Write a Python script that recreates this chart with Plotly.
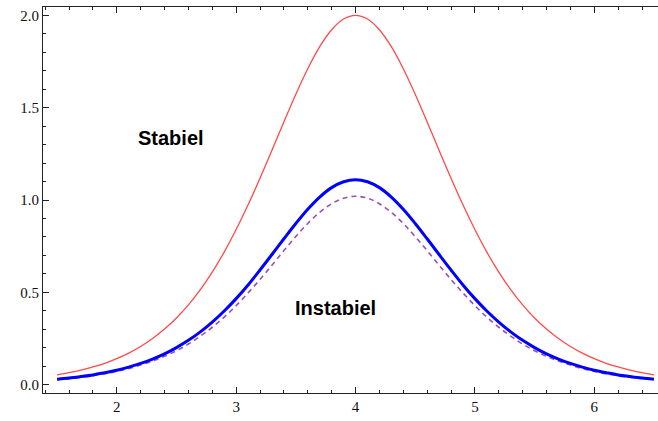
import plotly.graph_objects as go

x_vals = [round(1.5 + 0.1 * i, 1) for i in range(51)]
# values, from the left edge (x=1.5) up to the peak (x=4.0)
half_red = [0.053, 0.065, 0.079, 0.096, 0.116, 0.141, 0.171, 0.207, 0.250, 0.301, 0.361,
            0.432, 0.515, 0.610, 0.718, 0.840, 0.974, 1.118, 1.269, 1.423, 1.573,
            1.711, 1.830, 1.922, 1.980, 2.000]
half_blue = [0.030, 0.036, 0.044, 0.053, 0.065, 0.078, 0.095, 0.115, 0.139, 0.167, 0.201,
             0.240, 0.286, 0.339, 0.399, 0.466, 0.540, 0.621, 0.705, 0.790, 0.873,
             0.950, 1.016, 1.067, 1.099, 1.110]
half_dash = [0.027, 0.033, 0.040, 0.049, 0.059, 0.072, 0.087, 0.106, 0.128, 0.154, 0.184,
             0.220, 0.263, 0.311, 0.366, 0.428, 0.497, 0.570, 0.647, 0.726, 0.802,
             0.873, 0.933, 0.980, 1.010, 1.020]
stabiel_y = half_red + half_red[-2::-1]
instabiel_y = half_blue + half_blue[-2::-1]
dashed_y = half_dash + half_dash[-2::-1]

labels = ["Stabiel", "Instabiel"]
label_x = [2.455, 3.835]
label_y = [1.335, 0.415]

fig = go.Figure()
fig.add_trace(go.Scatter(x=x_vals, y=stabiel_y, mode="lines", line_shape="spline",
                         line=dict(color="#ff4a4a", width=1.3)))
fig.add_trace(go.Scatter(x=x_vals, y=dashed_y, mode="lines", line_shape="spline",
                         line=dict(color="#9a4fb4", width=1.6, dash="5px,4px")))
fig.add_trace(go.Scatter(x=x_vals, y=instabiel_y, mode="lines", line_shape="spline",
                         line=dict(color="#0000ff", width=3)))
for t, lx, ly in zip(labels, label_x, label_y):
    fig.add_annotation(x=lx, y=ly, text="<b>%s</b>" % t, showarrow=False,
                       font=dict(family="Liberation Sans, Arial", size=20, color="black"))

axis_common = dict(showgrid=False, zeroline=False, showline=True, linecolor="#222",
                   linewidth=1.2, ticks="inside", ticklen=6, tickcolor="#222", tickwidth=1,
                   automargin=False,
                   tickfont=dict(family="Liberation Serif, Times New Roman", size=15, color="#111"))
fig.update_layout(
    width=658, height=421, showlegend=False,
    plot_bgcolor="white", paper_bgcolor="white",
    margin=dict(l=43, r=0, t=7, b=28),
    xaxis=dict(range=[1.382, 6.534], tickvals=[2, 3, 4, 5, 6], mirror="ticks",
               minor=dict(dtick=0.2, tick0=0, ticks="inside", ticklen=3, tickcolor="#222"),
               **axis_common),
    yaxis=dict(range=[-0.045, 2.045], tickvals=[0, 0.5, 1.0, 1.5, 2.0], tickformat=".1f",
               minor=dict(dtick=0.1, tick0=0, ticks="inside", ticklen=3, tickcolor="#222"),
               **axis_common),
)
fig.write_html("out.html", config={"displayModeBar": False})

# remove the browser's default page margin so the figure sits at the window origin
with open("out.html", encoding="utf-8") as f:
    html = f.read()
html = html.replace("<head>", "<head><style>html,body{margin:0;padding:0;overflow:hidden;}</style>", 1)
with open("out.html", "w", encoding="utf-8") as f:
    f.write(html)
